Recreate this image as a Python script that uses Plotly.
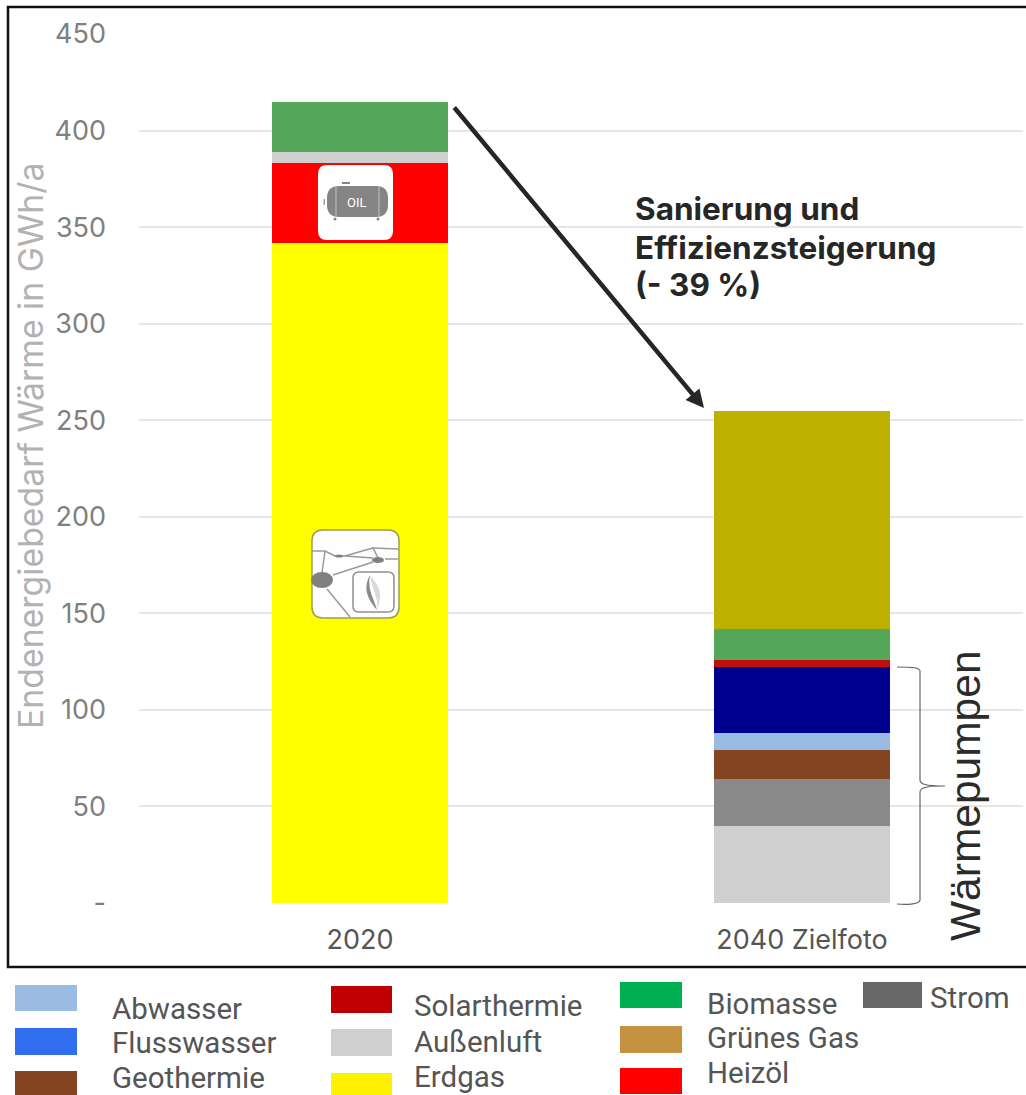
import plotly.graph_objects as go

W, H = 1026, 1095

# Heat demand in GWh/a per source and scenario
categories = ["2020", "2040 Zielfoto"]
erdgas = [342, 0]
heizoel = [41, 0]
aussenluft = [6, 40]
strom = [0, 24]
geothermie = [0, 15]
abwasser = [0, 9]
flusswasser = [0, 34]
solarthermie = [0, 4]
biomasse = [26, 16]
gruenes_gas = [0, 113]

y_ticks = [0, 50, 100, 150, 200, 250, 300, 350, 400, 450]
y_tick_labels = ["-", "50", "100", "150", "200", "250", "300", "350", "400", "450"]

series = [
    ("Erdgas", erdgas, "#ffff00"),
    ("Heizöl", heizoel, "#ff0000"),
    ("Außenluft", aussenluft, "#cfcfcf"),
    ("Strom", strom, "#8a8a8a"),
    ("Geothermie", geothermie, "#844321"),
    ("Abwasser", abwasser, "#97bbe2"),
    ("Flusswasser", flusswasser, "#00008f"),
    ("Solarthermie", solarthermie, "#c00f0f"),
    ("Biomasse", biomasse, "#54a758"),
    ("Grünes Gas", gruenes_gas, "#bdb000"),
]

# Hand-placed legend: label, swatch colour, swatch box, label anchor
legend_items = [
    ("Abwasser", "#9abce2", (15, 985, 77, 1011), (110, 1009)),
    ("Flusswasser", "#316ef0", (15, 1028, 77, 1055), (110, 1043)),
    ("Geothermie", "#844321", (15, 1071, 77, 1095), (110, 1078)),
    ("Solarthermie", "#c00000", (331, 986, 392, 1013), (412, 1006)),
    ("Außenluft", "#cfcfcf", (331, 1029, 392, 1056), (412, 1042)),
    ("Erdgas", "#fff200", (331, 1073, 392, 1095), (412, 1077)),
    ("Biomasse", "#00b050", (620, 982, 682, 1008), (705, 1004)),
    ("Grünes Gas", "#c59340", (620, 1026, 682, 1053), (705, 1038)),
    ("Heizöl", "#ff0000", (620, 1068, 682, 1094), (705, 1073)),
    ("Strom", "#666766", (863, 982, 922, 1008), (928, 998)),
]

callout_lines = ["Sanierung und", "Effizienzsteigerung", "(- 39 %)"]

PLOT_LEFT, PLOT_RIGHT, PLOT_TOP, PLOT_BOTTOM = 139, 1023, 34, 903
TEXT_FONT = "Inter"


def px(x):
    return x / W


def py(y):
    return 1 - y / H


def pt(x, y):
    return f"{px(x):.5f},{py(y):.5f}"


def line_path(points):
    return "M" + " L".join(pt(x, y) for x, y in points)


def rounded_box(x0, y0, x1, y1, r):
    return (
        f"M{pt(x0 + r, y0)} L{pt(x1 - r, y0)} Q{pt(x1, y0)} {pt(x1, y0 + r)} "
        f"L{pt(x1, y1 - r)} Q{pt(x1, y1)} {pt(x1 - r, y1)} "
        f"L{pt(x0 + r, y1)} Q{pt(x0, y1)} {pt(x0, y1 - r)} "
        f"L{pt(x0, y0 + r)} Q{pt(x0, y0)} {pt(x0 + r, y0)} Z"
    )


def path_shape(path, fill=None, color=None, width=1):
    spec = dict(type="path", xref="paper", yref="paper", path=path, layer="above")
    spec["fillcolor"] = fill if fill else "rgba(0,0,0,0)"
    spec["line"] = dict(color=color, width=width) if color else dict(width=0)
    return spec


def box_shape(x0, y0, x1, y1, fill=None, color=None, width=1):
    spec = dict(type="rect", xref="paper", yref="paper", layer="above",
                x0=px(x0), x1=px(x1), y0=py(y0), y1=py(y1))
    spec["fillcolor"] = fill if fill else "rgba(0,0,0,0)"
    spec["line"] = dict(color=color, width=width) if color else dict(width=0)
    return spec


def oval_shape(cx, cy, rx, ry, fill):
    return dict(type="circle", xref="paper", yref="paper", layer="above",
                x0=px(cx - rx), x1=px(cx + rx), y0=py(cy - ry), y1=py(cy + ry),
                fillcolor=fill, line=dict(width=0))


def label(text, x, y, size, color, xanchor="left", yanchor="middle", family=TEXT_FONT, **extra):
    return dict(text=text, x=px(x), y=py(y), xref="paper", yref="paper",
                xanchor=xanchor, yanchor=yanchor, showarrow=False,
                font=dict(family=family, size=size, color=color), **extra)


fig = go.Figure()
for name, values, color in series:
    fig.add_trace(go.Bar(name=name, x=categories, y=values, marker=dict(color=color, line=dict(width=0)),
                         showlegend=False, hoverinfo="x+y+name"))

# Frame around the chart; it runs off the right-hand page edge
shapes = [box_shape(8, 7, 1032, 967, color="#111111", width=2.5)]

# Oil tank badge
shapes += [
    path_shape(rounded_box(318, 165, 393, 240, 9), fill="#ffffff"),
    path_shape(rounded_box(327, 186, 388, 217, 12), fill="#858585"),
    path_shape(line_path([(336, 186), (336, 217)]), color="#c0c0c0", width=1),
    path_shape(line_path([(379, 186), (379, 217)]), color="#c0c0c0", width=1),
    box_shape(342, 182, 350, 184, fill="#858585"),
    box_shape(323.5, 199, 325, 205, fill="#a0a0a0"),
    oval_shape(335, 219, 1.5, 1.5, "#858585"),
    oval_shape(378, 219, 1.5, 1.5, "#858585"),
]

# Gas network badge
shapes.append(path_shape(rounded_box(312, 530, 399, 618, 11), fill="#fefefe", color="#9c9c5c", width=1.5))
for segment in [
    [(312, 551), (325, 551), (322, 573)],
    [(325, 551), (335, 556), (345, 556), (373, 548), (378, 558)],
    [(373, 548), (398, 549)],
    [(345, 556), (373, 558)],
    [(333, 575), (373, 562)],
    [(385, 559), (398, 559)],
    [(327, 589), (350, 617)],
]:
    shapes.append(path_shape(line_path(segment), color="#9a9a9a", width=1.5))
shapes += [
    oval_shape(322, 580, 11, 8, "#808080"),
    oval_shape(378, 560, 6, 3, "#808080"),
    oval_shape(339, 556, 4, 1.5, "#808080"),
    path_shape(rounded_box(353, 572, 394, 612, 6), fill="#ffffff", color="#8e8e8e", width=1.5),
    path_shape(f"M{pt(370, 575)} C{pt(376, 584)} {pt(385, 590)} {pt(377, 610)} "
               f"C{pt(379, 598)} {pt(372, 590)} {pt(370, 575)} Z", fill="#dadada"),
    path_shape(f"M{pt(370, 575)} C{pt(364, 586)} {pt(365, 596)} {pt(377, 610)} "
               f"C{pt(374, 598)} {pt(367, 590)} {pt(370, 575)} Z", fill="#8a8a8a"),
]

# Curly brace around the heat pump sources
shapes.append(path_shape(
    f"M{pt(897, 667)} C{pt(908, 667)} {pt(920, 667)} {pt(920, 671)} L{pt(920, 780)} "
    f"C{pt(920, 784)} {pt(925, 786)} {pt(945, 786)} C{pt(925, 786)} {pt(920, 788)} {pt(920, 792)} "
    f"L{pt(920, 900)} C{pt(920, 904)} {pt(908, 905)} {pt(897, 904)}",
    color="#666666", width=1.2))

annotations = [
    label("Endenergiebedarf Wärme in GWh/a", 31, 446, 33.8, "#b2b2b2", xanchor="center", textangle=-90),
    label("Wärmepumpen", 965, 796, 42.5, "#2b2b2b", xanchor="center", textangle=-90, family="Liberation Sans"),
    label("OIL", 356, 202, 13, "#ffffff", xanchor="center", family="Roboto"),
    dict(x=px(704), y=py(408), ax=453 - 704, ay=106 - 408, axref="pixel", ayref="pixel",
         xref="paper", yref="paper", showarrow=True, text="", arrowhead=2, arrowsize=0.8,
         arrowwidth=4.5, arrowcolor="#262626"),
]
for line, line_y in zip(callout_lines, (208, 247, 285)):
    annotations.append(label(f"<b>{line}</b>", 633, line_y, 31.5, "#262626"))

for name, swatch, box, anchor in legend_items:
    shapes.append(box_shape(*box, fill=swatch))
    annotations.append(label(name, anchor[0], anchor[1], 29.5, "#555555", family="Roboto"))

fig.update_layout(
    width=W,
    height=H,
    autosize=False,
    barmode="stack",
    bargap=0.6,
    margin=dict(l=0, r=0, t=0, b=0, autoexpand=False),
    paper_bgcolor="#ffffff",
    plot_bgcolor="#ffffff",
    font=dict(family=TEXT_FONT),
    shapes=shapes,
    annotations=annotations,
    xaxis=dict(
        domain=[px(PLOT_LEFT), px(PLOT_RIGHT)],
        type="category",
        automargin=False,
        showgrid=False,
        showline=False,
        ticks="",
        ticklabelstandoff=18,
        tickfont=dict(size=27, color="#555555"),
    ),
    yaxis=dict(
        domain=[py(PLOT_BOTTOM), py(PLOT_TOP)],
        range=[0, 450],
        automargin=False,
        tickvals=y_ticks,
        ticktext=y_tick_labels,
        gridcolor="#e6e6e6",
        gridwidth=1.5,
        zeroline=False,
        ticks="",
        ticklabelstandoff=32,
        tickfont=dict(size=27, color="#808080"),
    ),
)

fig.write_html("out.html", config=dict(displayModeBar=False))
